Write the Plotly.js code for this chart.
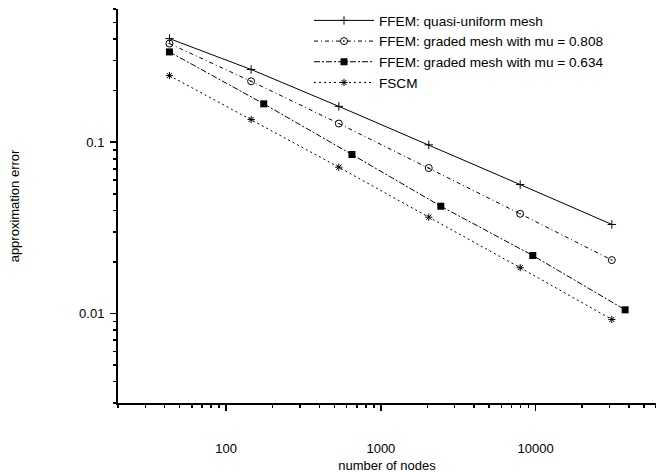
<!DOCTYPE html>
<html>
<head>
<meta charset="utf-8">
<script src="https://cdn.plot.ly/plotly-3.0.1.min.js"></script>
<style>
  html, body { margin: 0; padding: 0; background: #fff; }
  #chart { width: 656px; height: 473px; }
</style>
</head>
<body>
<div id="chart"></div>
<script>
// Number of nodes
const nodesA = [43, 145, 535, 2040, 7950, 31100];
const nodesB = [43, 175, 650, 2440, 9590, 37900];

// Approximation errors
const errUniform = [0.403, 0.266, 0.162, 0.0965, 0.0566, 0.0331];
const errGraded808 = [0.377, 0.227, 0.1286, 0.0707, 0.0382, 0.0205];
const errGraded634 = [0.337, 0.1676, 0.0848, 0.0423, 0.0218, 0.0105];
const errFSCM = [0.245, 0.1357, 0.0715, 0.0365, 0.0185, 0.00923];

const seriesNames = [
  'FFEM: quasi-uniform mesh',
  'FFEM: graded mesh with mu = 0.808',
  'FFEM: graded mesh with mu = 0.634',
  'FSCM'
];

const xTickVals = [100, 1000, 10000];
const xTickText = ['100', '1000', '10000'];
const yTickVals = [0.01, 0.1];
const yTickText = ['0.01', '0.1'];

const xMinor = [20,30,40,50,60,70,80,90,200,300,400,500,600,700,800,900,2000,3000,4000,5000,6000,7000,8000,9000,20000,30000,40000,50000,60000];
const yMinor = [0.003,0.004,0.005,0.006,0.007,0.008,0.009,0.02,0.03,0.04,0.05,0.06,0.07,0.08,0.09,0.2,0.3,0.4,0.5,0.6];

const FONT = 'Liberation Sans, Arial, sans-serif';

const traces = [
  { x: nodesA, y: errUniform, name: seriesNames[0], mode: 'lines+markers',
    line: { color: '#000', width: 1 },
    marker: { symbol: 'cross-thin-open', size: 6, color: '#000', line: { width: 1, color: '#000' } } },
  { x: nodesA, y: errGraded808, name: seriesNames[1], mode: 'lines+markers',
    line: { color: '#000', width: 1, dash: '4px,3px,1px,3px' },
    marker: { symbol: 'circle-open-dot', size: 7, color: '#000', line: { width: 1, color: '#000' } } },
  { x: nodesB, y: errGraded634, name: seriesNames[2], mode: 'lines+markers',
    line: { color: '#000', width: 1, dash: '6px,2px,2px,2px' },
    marker: { symbol: 'square', size: 7, color: '#000', line: { width: 0 } } },
  { x: nodesA, y: errFSCM, name: seriesNames[3], mode: 'lines+markers',
    line: { color: '#000', width: 1, dash: '2px,3px' },
    marker: { symbol: 'asterisk-open', size: 6, color: '#000', line: { width: 1, color: '#000' } } }
];

const layout = {
  width: 656, height: 473,
  margin: { l: 118, r: 0, t: 9, b: 70 },
  paper_bgcolor: '#fff', plot_bgcolor: '#fff',
  font: { family: FONT, size: 13, color: '#000' },
  showlegend: true,
  legend: {
    x: (309 - 118) / 538, y: 1.01, xanchor: 'left', yanchor: 'top',
    bgcolor: 'rgba(0,0,0,0)', borderwidth: 0,
    font: { family: FONT, size: 13.6, color: '#000' },
    itemwidth: 60
  },
  xaxis: {
    type: 'log', range: [Math.log10(20), Math.log10(60000)],
    tickmode: 'array', tickvals: xTickVals, ticktext: xTickText,
    ticks: 'outside', ticklen: 6, tickwidth: 1.5, tickcolor: '#000',
    ticklabelstandoff: 26,
    minor: { tickmode: 'array', tickvals: xMinor, ticks: 'outside', ticklen: 3, tickwidth: 1.5, tickcolor: '#000', showgrid: false },
    showline: true, linecolor: '#000', linewidth: 2,
    showgrid: false, zeroline: false, mirror: false,
    title: { text: 'number of nodes', font: { family: FONT, size: 13 }, standoff: 14 }
  },
  yaxis: {
    type: 'log', range: [Math.log10(0.003), Math.log10(0.6)],
    tickmode: 'array', tickvals: yTickVals, ticktext: yTickText,
    ticks: 'outside', ticklen: 6, tickwidth: 1.5, tickcolor: '#000',
    ticklabelstandoff: 3,
    minor: { tickmode: 'array', tickvals: yMinor, ticks: 'outside', ticklen: 3, tickwidth: 1.5, tickcolor: '#000', showgrid: false },
    showline: true, linecolor: '#000', linewidth: 2,
    showgrid: false, zeroline: false, mirror: false,
    title: { text: 'approximation error', font: { family: FONT, size: 13 }, standoff: 57 }
  }
};

Plotly.newPlot('chart', traces, layout, { displayModeBar: false, staticPlot: true });
</script>
</body>
</html>
